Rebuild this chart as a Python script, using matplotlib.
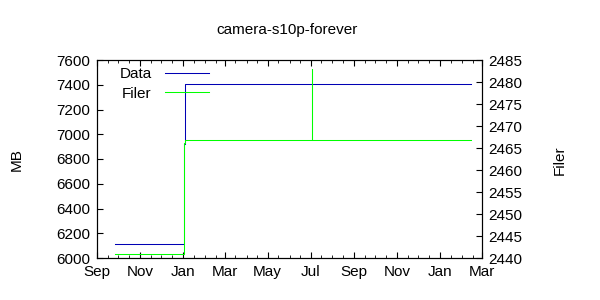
import matplotlib
matplotlib.use("Agg")
import matplotlib.pyplot as plt
import matplotlib.dates as mdates
import numpy as np
from datetime import datetime

plt.rcParams['font.family'] = ['Liberation Sans', 'DejaVu Sans']

# ── Data ────────────────────────────────────────────────────────────────────
data_dates = ["2008-09-26", "2009-01-02", "2009-01-04", "2010-02-13"]
data_mb    = [6112, 6924, 7410, 7410]

filer_dates = ["2008-09-26", "2009-01-02", "2009-01-03", "2009-07-03T00:00",
               "2009-07-03T06:00", "2010-02-13"]
filer_vals  = [2440.9, 2466.2, 2466.9, 2483.0, 2466.9, 2466.9]

x_start, x_end = "2008-09-01", "2010-03-01"
left_ticks  = np.arange(6000, 7601, 200)
right_ticks = np.arange(2440, 2486, 5)

to_dt = lambda lst: [datetime.fromisoformat(d) for d in lst]

# ── Plot ─────────────────────────────────────────────────────────────────────
fig = plt.figure(figsize=(6, 3), dpi=100)
ax = fig.add_axes([0.162, 0.14, 0.641, 0.66])
ax2 = ax.twinx()

ln1, = ax.plot(to_dt(data_dates), data_mb, drawstyle="steps-post",
               color="#0000b4", linewidth=0.75, label="Data")
ln2, = ax2.plot(to_dt(filer_dates), filer_vals, drawstyle="steps-post",
                color="#00ff00", linewidth=0.75, label="Filer")

ax.set_xlim(datetime.fromisoformat(x_start), datetime.fromisoformat(x_end))
ax.set_ylim(6000, 7600)
ax2.set_ylim(2440, 2485)
ax.set_yticks(left_ticks)
ax2.set_yticks(right_ticks)

ax.xaxis.set_major_locator(mdates.MonthLocator(bymonth=[1, 3, 5, 7, 9, 11]))
ax.xaxis.set_major_formatter(mdates.DateFormatter("%b"))
ax.xaxis.set_minor_locator(mdates.MonthLocator(bymonthday=[1, 16]))

fs = 11
ax.tick_params(which="both", direction="in", top=True, labelsize=fs, pad=5)
ax.tick_params(axis="y", right=False)
ax2.tick_params(which="both", direction="in", labelsize=fs, pad=5)
ax.tick_params(which="major", length=4)
ax.tick_params(which="minor", length=2)
ax2.tick_params(which="major", length=4)

fig.text(17 / 600, 1 - 160 / 300, "MB", rotation=90, fontsize=fs,
         ha="center", va="center")
fig.text(560 / 600, 1 - 160 / 300, "Filer", rotation=90, fontsize=fs,
         ha="center", va="center")
fig.text(287 / 600, 1 - 30 / 300, "camera-s10p-forever", fontsize=fs,
         ha="center", va="center")

ax.legend(handles=[ln1, ln2], loc="upper left", bbox_to_anchor=(0.058, 0.965),
          frameon=False, markerfirst=False, handlelength=2.9,
          handletextpad=0.85, labelspacing=0.37, fontsize=fs,
          borderpad=0, borderaxespad=0)

fig.savefig("out.png", dpi=100)
